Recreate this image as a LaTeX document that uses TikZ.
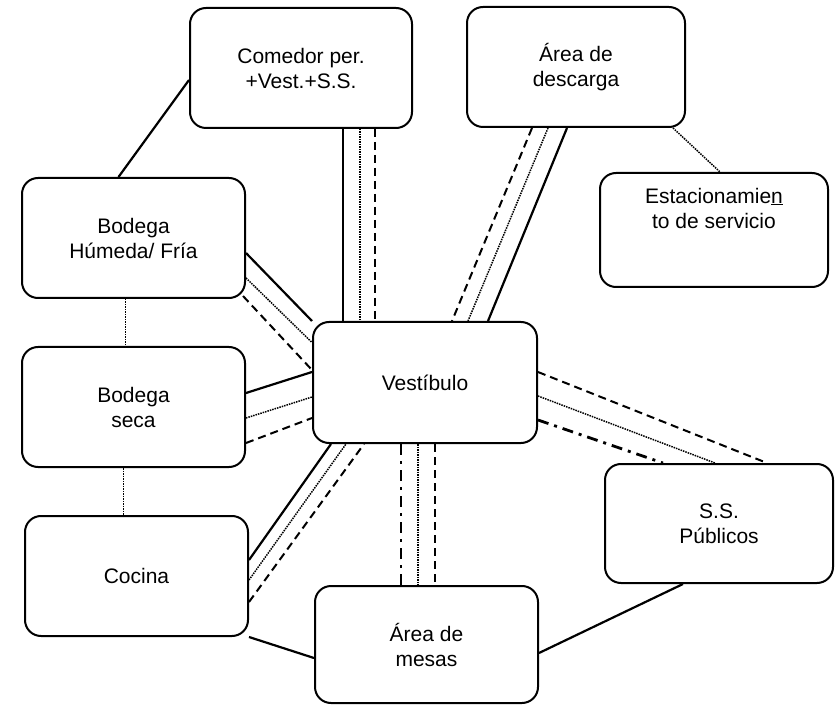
\documentclass[tikz,border=0pt]{standalone}
\usepackage{fontspec}
\setmainfont{Liberation Sans}
\tikzset{
  room/.style={draw, rounded corners=16pt, line width=2pt, align=center, inner sep=0pt, font=\fontsize{21}{25}\selectfont},
  wall/.style={line width=2.2pt},
  dots/.style={line width=1.5pt, dash pattern=on 1.5pt off 1pt},
  dashes/.style={line width=2pt, dash pattern=on 8pt off 5pt},
  dashdot/.style={line width=2.8pt, dash pattern=on 11pt off 6pt on 3pt off 6pt}
}

\begin{document}
\begin{tikzpicture}[x=1pt, y=-1pt]
  \useasboundingbox (0,0) rectangle (835,708);
  \fill[white] (0,0) rectangle (835,708);

  \node[room, minimum width=222pt, minimum height=120pt] (com) at (301,68) {Comedor per.\\+Vest.+S.S.};
  \node[room, minimum width=218pt, minimum height=120pt] (desc) at (576,67) {Área de\\descarga};
  \node[room, minimum width=228pt, minimum height=114pt, text depth=44pt] (est) at (714,230) {Estacionamie\underline{n}\\to de servicio};
  \node[room, minimum width=223pt, minimum height=120pt] (bh) at (133.5,238) {Bodega\\Húmeda/ Fría};
  \node[room, minimum width=223pt, minimum height=120pt] (bs) at (133.5,407) {Bodega\\seca};
  \node[room, minimum width=223pt, minimum height=120pt] (coc) at (136.5,576) {Cocina};
  \node[room, minimum width=224pt, minimum height=121pt] (vest) at (425,382.5) {Vestíbulo};
  \node[room, minimum width=223pt, minimum height=117pt] (mesas) at (426.5,644.5) {Área de\\mesas};
  \node[room, minimum width=228pt, minimum height=119pt] (ss) at (719,523.5) {S.S.\\Públicos};

  \draw[wall] ([yshift=-12pt]com.west) -- ([xshift=-15pt]bh.north);
  \draw[dots] ([xshift=-8pt]bh.south) -- ([xshift=-8pt]bh.south |- bs.north);
  \draw[dots] ([xshift=-10pt]bs.south) -- ([xshift=-10pt]bs.south |- coc.north);
  \draw[dots] ([xshift=-13pt]desc.south east) -- ([xshift=6pt]est.north);

  \draw[wall] ([xshift=42pt]com.south) -- ([xshift=42pt]com.south |- vest.north);
  \draw[dots] ([xshift=59pt]com.south) -- ([xshift=59pt]com.south |- vest.north);
  \draw[dashes] ([xshift=74pt]com.south) -- ([xshift=74pt]com.south |- vest.north);

  \draw[dashes] ([xshift=-44pt]desc.south) -- ([xshift=27pt]vest.north);
  \draw[dots] ([xshift=-28pt]desc.south) -- ([xshift=43pt]vest.north);
  \draw[wall] ([xshift=-9pt]desc.south) -- ([xshift=63pt]vest.north);

  \draw[wall] ([yshift=-15pt]bh.east) -- (vest.north west);
  \draw[dots] ([yshift=-40pt]bh.east) -- ([yshift=40pt]vest.west);
  \draw[dashes] ([xshift=-3pt,yshift=3pt]bh.south east) -- ([yshift=12.5pt]vest.west);

  \draw[wall] ([yshift=14pt]bs.east) -- ([yshift=10.5pt]vest.west);
  \draw[dots] ([yshift=-11pt]bs.east) -- ([yshift=-14.5pt]vest.west);
  \draw[dashes] ([yshift=-36pt]bs.east) -- ([yshift=-35.5pt]vest.west);

  \draw[wall] ([yshift=16pt]coc.east) -- ([xshift=19pt]vest.south west);
  \draw[dots] ([yshift=-4pt]coc.east) -- ([xshift=34pt]vest.south west);
  \draw[dashes] ([yshift=-26pt]coc.east) -- ([xshift=52pt]vest.south west);
  \draw[wall] (coc.south east) -- ([yshift=-13.5pt]mesas.west);

  \draw[dashdot] ([xshift=-24pt]vest.south) -- ([xshift=-24pt]vest.south |- mesas.north);
  \draw[dots] ([xshift=-7pt]vest.south) -- ([xshift=-7pt]vest.south |- mesas.north);
  \draw[dashes] ([xshift=10pt]vest.south) -- ([xshift=10pt]vest.south |- mesas.north);

  \draw[dashes] ([yshift=10.5pt]vest.east) -- ([xshift=48pt]ss.north);
  \draw[dots] ([yshift=-13.5pt]vest.east) -- ([xshift=-4pt]ss.north);
  \draw[dashdot] ([yshift=-37.5pt]vest.east) -- ([xshift=-56pt]ss.north);
  \draw[wall] ([xshift=-36pt]ss.south) -- ([yshift=-8.5pt]mesas.east);
\end{tikzpicture}
\end{document}
